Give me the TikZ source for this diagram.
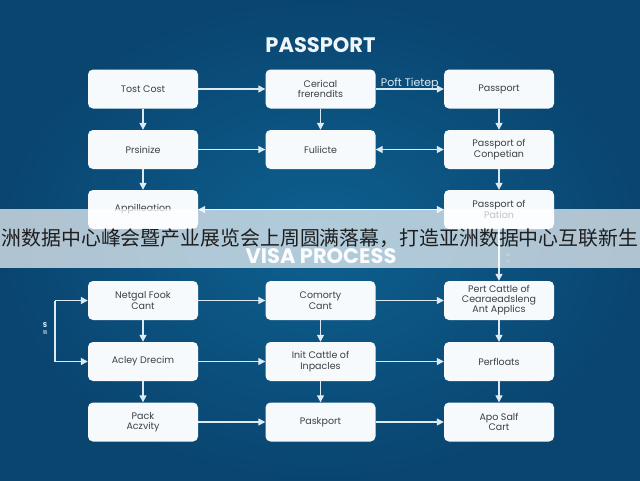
\documentclass[tikz,border=0pt]{standalone}
\usepackage{fontspec}
\setmainfont{Poppins}
\newfontfamily\cjk{Noto Sans CJK SC}
\usetikzlibrary{arrows.meta}
\definecolor{bgin}{HTML}{0D6090}
\definecolor{bgout}{HTML}{0A4570}
\definecolor{boxc}{HTML}{F7FAFC}
\definecolor{boxtext}{HTML}{3A4048}
\definecolor{linec}{HTML}{DCEBF3}
\definecolor{titlec}{HTML}{EEF4F8}
\definecolor{cjktext}{HTML}{1E1E1E}
\begin{document}
\begin{tikzpicture}[x=1pt,y=-1pt,
  box/.style={fill=boxc, rounded corners=5pt, minimum width=110pt, minimum height=39pt,
    align=center, font=\fontsize{9.5}{10.5}\selectfont, text=boxtext, inner sep=2pt},
  con/.style={draw=linec, line width=1.3pt, -{Triangle[length=7pt,width=7pt]}},
  dcon/.style={draw=linec, line width=1.3pt, {Triangle[length=7pt,width=7pt]}-{Triangle[length=7pt,width=7pt]}},
  plain/.style={draw=linec, line width=1.3pt},
  lbl/.style={text=linec, inner sep=0pt}]
\useasboundingbox (0,0) rectangle (640,480);
\shade[inner color=bgin, outer color=bgout] (0,0) rectangle (640,480);

\node[text=titlec, font=\bfseries\fontsize{21}{22}\selectfont] (t1) at (320.5,45) {PASSPORT};

% row 1
\node[box] (a1) at (143,89) {Tost Cost};
\node[box] (b1) at (320.5,89) {Cerical\\frerendits};
\node[box] (c1) at (499,89) {Passport};
% row 2
\node[box] (a2) at (143,149.5) {Prsinize};
\node[box] (b2) at (320.5,149.5) {Fuliicte};
\node[box] (c2) at (499,149.5) {Passport of\\Conpetian};
% row 3
\node[box] (a3) at (143,209.5) {Appilleation};
\node[box] (c3) at (499,209.5) {Passport of\\Pation};
% row 4
\node[box] (a4) at (143,300.5) {Netgal Fook\\Cant};
\node[box] (b4) at (320.5,300.5) {Comorty\\Cant};
\node[box, font=\fontsize{9.5}{10}\selectfont] (c4) at (499,300.5) {Pert Cattle of\\Cearaeadsleng\\Ant Applics};
% row 5
\node[box] (a5) at (143,361.5) {Acley Drecim};
\node[box] (b5) at (320.5,361.5) {Init Cattle of\\Inpacles};
\node[box] (c5) at (499,361.5) {Perfloats};
% row 6
\node[box] (a6) at (143,422) {Pack\\Aczvity};
\node[box] (b6) at (320.5,422) {Paskport};
\node[box] (c6) at (499,422) {Apo Salf\\Cart};

% connectors top section
\draw[con] (a1) -- (b1);
\draw[con] (b1) -- (c1) node[lbl, midway, yshift=5pt, font=\fontsize{11}{11}\selectfont] (l1) {Poft Tietep};
\draw[con] (a1) -- (a2);
\draw[con] (b1) -- (b2);
\draw[con] (c1) -- (c2);
\draw[con] (a2) -- (b2);
\draw[dcon] (b2) -- (c2);
\draw[con] (a2) -- (a3);
\draw[con] (c2) -- (c3);
\draw[dcon] (a3) -- (c3);
\draw[con] (c3) -- (c4);

% bottom section
\draw[con] (a4) -- (b4);
\draw[con] (b4) -- (c4);
\draw[con] (a5) -- (b5);
\draw[con] (b5) -- (c5);
\draw[con] (a6) -- (b6);
\draw[con] (b6) -- (c6);
\draw[con] (a4) -- (a5);
\draw[con] (b4) -- (b5);
\draw[con] (c4) -- (c5);
\draw[con] (a5) -- (a6);
\draw[con] (b5) -- (b6);
\draw[con] (c5) -- (c6);

% left bracket
\coordinate (lt) at (55,300.5);
\coordinate (lb) at (55,361.5);
\draw[plain] (lt) -- (lb);
\draw[con] (lt) -- (a4);
\draw[con] (lb) -- (a5);
\node[lbl, font=\bfseries\fontsize{7}{7}\selectfont] (s1) at (45,325.5) {S};
\node[lbl, font=\bfseries\fontsize{5}{5}\selectfont] (s2) at (45,333) {11};

% banner
\fill[white, opacity=0.68] (0,209) rectangle (640,268);
\node[text=white, opacity=0.95, font=\bfseries\fontsize{21}{22}\selectfont] (t2) at (321,256) {VISA PROCESS};
\node[text=cjktext, inner sep=0pt, font=\cjk\fontsize{19.9}{22}\selectfont] (cn) at (320,238) {洲数据中心峰会暨产业展览会上周圆满落幕，打造亚洲数据中心互联新生};
\node[text=linec, opacity=0.8, inner sep=0pt, font=\fontsize{5}{5}\selectfont] (an1) at (508,255) {a};
\node[text=linec, opacity=0.8, inner sep=0pt, font=\fontsize{5}{5}\selectfont] (an2) at (508,262) {n};
\end{tikzpicture}
\end{document}
